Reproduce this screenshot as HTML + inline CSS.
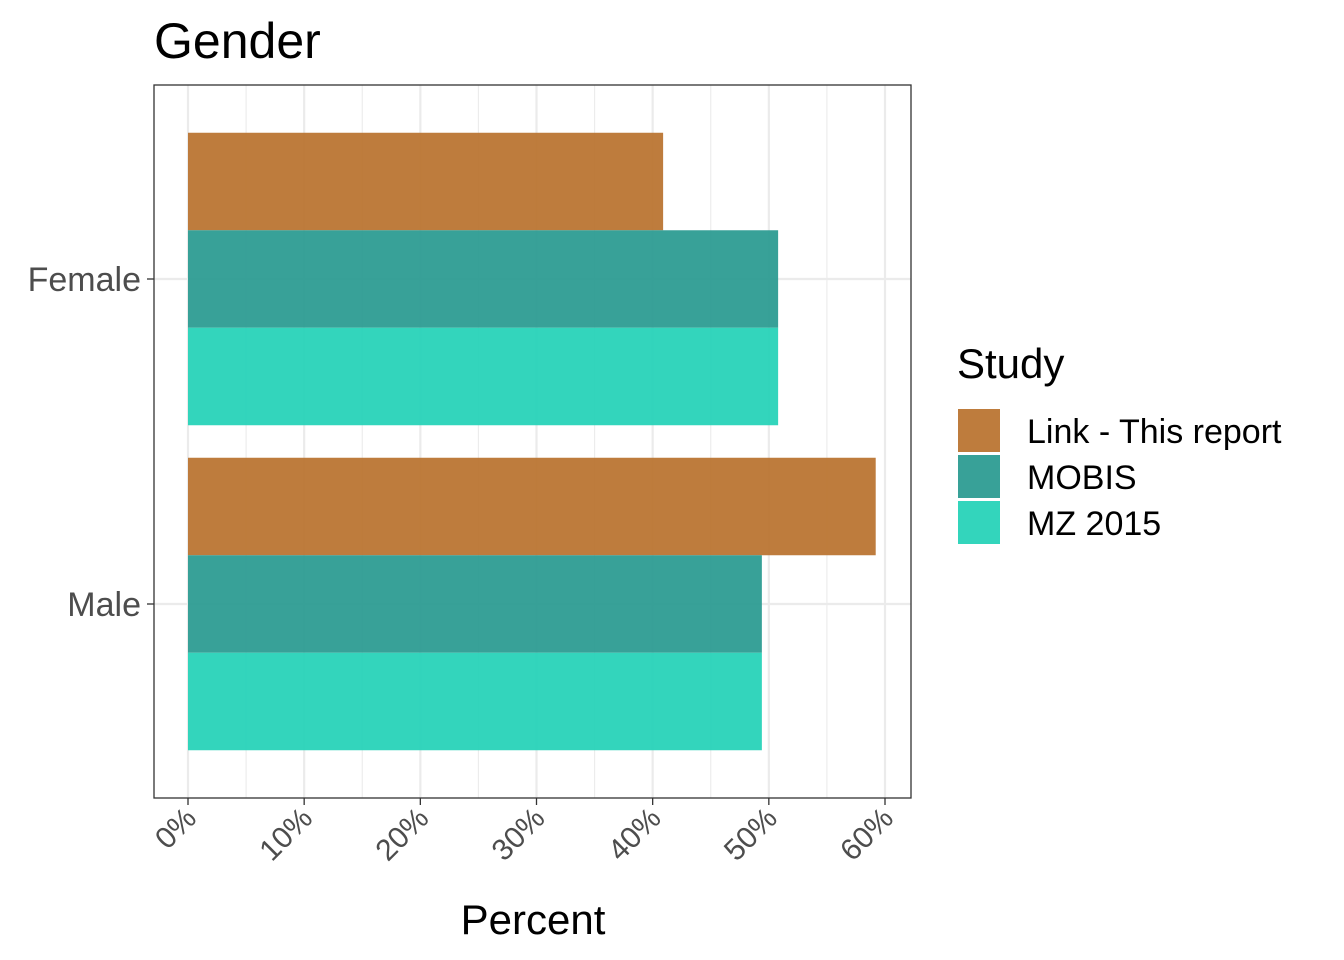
<!DOCTYPE html>
<html><head><meta charset="utf-8"><style>
body{margin:0;background:#fff;}
svg{display:block;font-family:"Liberation Sans",Arial,sans-serif;}
</style></head><body>
<svg id="chart" width="1344" height="960">
<text x="154" y="58" font-size="50" fill="#000">Gender</text>
<rect x="154" y="85" width="757" height="713" fill="#fff"/>
<g id="grid"></g>
<g id="bars"></g>
<rect x="154" y="85" width="757" height="713" fill="none" stroke="#333" stroke-width="1.3"/>
<g id="axes"></g>
<text x="533" y="934" font-size="42" text-anchor="middle" fill="#000">Percent</text>
<g>
<text x="957" y="378" font-size="42" fill="#000">Study</text>
<g id="legend"></g>
</g>
</svg>
<script>
const categories = ["Female", "Male"];
const series = ["Link - This report", "MOBIS", "MZ 2015"];
const linkValues = [40.9, 59.2];
const mobisValues = [50.8, 49.4];
const mzValues = [50.8, 49.4];
const xTicks = [0, 10, 20, 30, 40, 50, 60];
const colors = ["#b8712c", "#27998f", "#22d1b6"];

const NS = "http://www.w3.org/2000/svg";
function mk(tag, attrs, parent){const e=document.createElementNS(NS,tag);for(const k in attrs)e.setAttribute(k,attrs[k]);parent.appendChild(e);return e;}
const x = v => 188 + v * (885 - 188) / 60;
const catY = i => 279 + i * 325;
const groupW = 292.5;
const grid = document.getElementById('grid'), bars = document.getElementById('bars'), axes = document.getElementById('axes'), legend = document.getElementById('legend');

for (let i = 0; i < xTicks.length; i++) {
  const g = mk('line', {x1:x(xTicks[i]), x2:x(xTicks[i]), y1:85, y2:798, stroke:'#ebebeb', 'stroke-width':2.2}, grid);
  
  
  if (i < xTicks.length - 1) {
    const m = (xTicks[i] + xTicks[i+1]) / 2;
    const gm = mk('line', {x1:x(m), x2:x(m), y1:85, y2:798, stroke:'#ebebeb', 'stroke-width':1.1}, grid);
    
    
  }
}
categories.forEach((c, i) => {
  const g = mk('line', {x1:154, x2:911, y1:catY(i), y2:catY(i), stroke:'#ebebeb', 'stroke-width':2.2}, grid);
  
  
});

const allValues = [linkValues, mobisValues, mzValues];
categories.forEach((c, i) => {
  const top = catY(i) - groupW / 2, h = groupW / 3;
  allValues.forEach((vals, s) => {
    const r = mk('rect', {x:x(0), y:top + s*h, width:x(vals[i]) - x(0), height:h, fill:colors[s], 'fill-opacity':0.92}, bars);
    
    
  });
  const t = mk('line', {x1:147, x2:154, y1:catY(i), y2:catY(i), stroke:'#333', 'stroke-width':1.3}, axes);
  
  
  const l = mk('text', {x:141, y:catY(i) + 12, 'font-size':34, fill:'#4d4d4d', 'text-anchor':'end'}, axes);
  l.textContent = c;
  
  
});

xTicks.forEach(v => {
  const t = mk('line', {x1:x(v), x2:x(v), y1:798, y2:805, stroke:'#333', 'stroke-width':1.3}, axes);
  
  
  const l = mk('text', {x:x(v) + 10, y:820, 'font-size':30, fill:'#4d4d4d', 'text-anchor':'end', transform:'rotate(-45 ' + (x(v) + 10) + ' 820)'}, axes);
  l.textContent = v + '%';
  
  
});

series.forEach((s, i) => {
  const y = 409 + i * 46;
  const r = mk('rect', {x:958, y:y, width:42, height:43, fill:colors[i], 'fill-opacity':0.92}, legend);
  
  
  const t = mk('text', {x:1027, y:y + 34, 'font-size':34, fill:'#000'}, legend);
  t.textContent = s;
  
  
});
</script>
</body></html>
